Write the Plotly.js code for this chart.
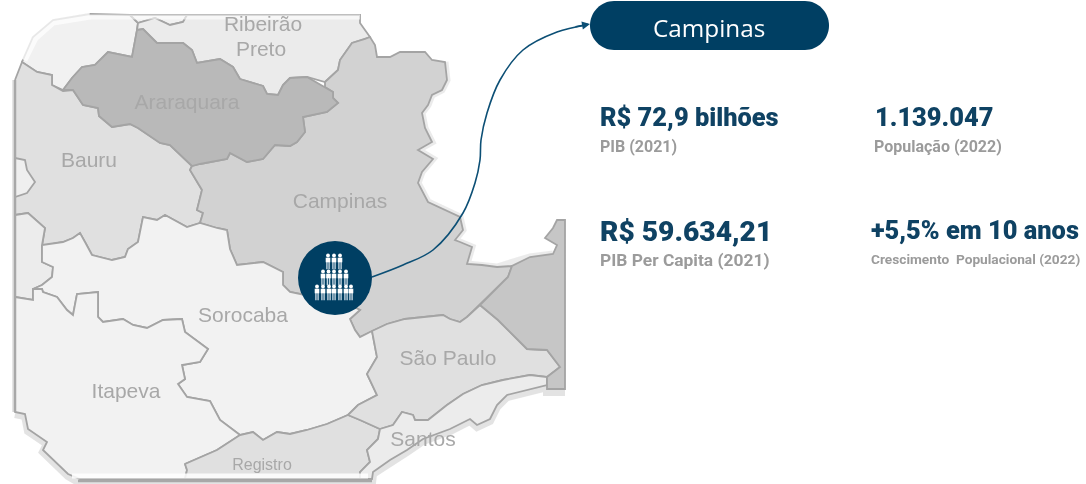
<!DOCTYPE html>
<html><head><meta charset="utf-8">
<script src="https://cdn.plot.ly/plotly-3.0.1.min.js"></script>
<style>html,body{margin:0;padding:0;background:#fff}#c{width:1086px;height:484px}</style>
</head><body><div id="c"></div>
<script>
// Region outlines
const cornerNW=[[90,14],[130,15],[138,23],[137,30],[132,57],[108,52],[95,65],[82,67],[72,78],[63,90],[52,85],[52,75],[37,72],[22,62],[33,37],[53,20]];
const cornerN=[[130,15],[187,15],[183,22],[170,25],[155,18],[138,23]];
const ribeirao=[[137,30],[143,29],[157,43],[183,43],[192,50],[197,63],[220,59],[233,67],[240,79],[263,86],[267,94],[278,95],[283,85],[290,78],[307,77],[325,82],[338,70],[340,60],[352,43],[365,39],[370,37],[360,23],[360,15],[187,15],[183,22],[170,25],[155,18],[138,23]];
const bauru=[[15,80],[22,62],[37,72],[52,75],[52,85],[63,91],[73,90],[83,105],[98,108],[99,116],[112,127],[130,124],[138,128],[160,143],[170,145],[192,166],[190,170],[202,190],[197,210],[203,213],[200,223],[187,227],[165,215],[157,220],[143,217],[138,242],[128,249],[125,257],[112,260],[92,255],[85,242],[80,233],[73,238],[63,242],[42,246],[45,228],[28,213],[15,215]];
const enclaveW=[[15,158],[25,160],[27,170],[35,182],[27,193],[15,197]];
const stripW=[[15,215],[28,213],[45,228],[42,245],[42,262],[53,267],[52,277],[42,285],[33,289],[33,300],[15,297]];
const enclaveSW=[[15,297],[22,310],[15,320]];
const araraquara=[[63,90],[72,78],[82,67],[95,65],[108,52],[132,57],[137,30],[143,29],[157,43],[183,43],[192,50],[197,63],[220,59],[233,67],[240,79],[263,86],[267,94],[278,95],[283,85],[290,78],[307,77],[325,87],[333,92],[333,98],[338,103],[327,112],[303,117],[305,132],[297,142],[290,146],[275,145],[263,159],[247,162],[230,153],[227,159],[200,164],[192,166],[170,145],[160,143],[138,128],[130,124],[112,127],[99,116],[98,108],[83,105],[73,90]];
const campinas=[[192,166],[200,164],[227,159],[230,153],[247,162],[263,159],[275,145],[290,146],[297,142],[305,132],[303,117],[327,112],[338,103],[333,98],[333,92],[325,87],[325,82],[338,70],[340,60],[352,43],[365,39],[370,37],[375,45],[377,57],[390,57],[400,52],[425,52],[432,60],[445,62],[447,80],[442,90],[432,95],[428,105],[422,113],[425,128],[432,142],[418,150],[433,159],[422,172],[418,183],[428,202],[460,217],[463,230],[455,240],[460,242],[472,247],[467,264],[482,265],[497,267],[512,266],[508,277],[480,305],[467,317],[460,322],[450,319],[443,315],[427,317],[405,319],[387,324],[372,331],[360,337],[355,330],[350,319],[360,310],[340,300],[310,296],[290,292],[283,285],[283,272],[263,262],[237,265],[230,249],[227,230],[217,228],[200,223],[203,213],[197,210],[202,190],[190,170]];
const sorocaba=[[42,245],[63,242],[73,238],[80,233],[85,242],[92,255],[112,260],[125,257],[128,249],[138,242],[143,217],[157,220],[165,215],[187,227],[200,223],[217,228],[227,230],[230,249],[237,265],[263,262],[283,272],[283,285],[290,292],[310,296],[340,300],[360,310],[350,319],[355,330],[360,337],[372,331],[376,352],[377,357],[367,374],[377,395],[358,405],[348,415],[327,424],[307,430],[290,434],[277,432],[263,440],[253,432],[240,435],[220,420],[210,401],[187,397],[178,384],[185,379],[182,365],[200,362],[208,349],[185,332],[182,319],[163,320],[147,328],[133,325],[123,319],[103,322],[98,317],[98,292],[77,294],[73,315],[67,310],[57,297],[43,292],[42,289],[33,289],[42,285],[52,277],[53,267],[42,262]];
const itapeva=[[15,297],[33,300],[33,289],[42,289],[43,292],[57,297],[67,310],[73,315],[77,294],[98,292],[98,317],[103,322],[123,319],[133,325],[147,328],[163,320],[182,319],[185,332],[208,349],[200,362],[182,365],[185,379],[178,384],[187,397],[210,401],[220,420],[240,435],[217,450],[185,464],[187,470],[185,479],[80,479],[68,474],[58,464],[43,450],[47,442],[28,429],[25,414],[15,412]];
const registro=[[185,464],[217,450],[240,435],[253,432],[263,440],[277,432],[290,434],[307,430],[327,424],[348,415],[360,420],[380,429],[378,439],[367,450],[370,462],[360,472],[360,479],[185,479],[187,470]];
const saoPaulo=[[372,331],[387,324],[405,319],[427,317],[443,315],[450,319],[460,322],[467,317],[480,305],[498,320],[517,339],[527,349],[547,350],[560,367],[547,377],[530,375],[503,380],[482,385],[463,394],[447,405],[428,420],[415,420],[413,415],[402,412],[393,425],[380,429],[360,420],[348,415],[358,405],[377,395],[367,374],[377,357],[376,352]];
const santos=[[380,429],[393,425],[402,412],[413,415],[415,420],[428,420],[447,405],[463,394],[482,385],[503,380],[530,375],[547,377],[547,385],[507,395],[497,405],[490,419],[477,425],[470,419],[450,429],[423,439],[407,450],[390,460],[373,472],[372,479],[360,479],[360,472],[370,462],[367,450],[378,439]];
const easternRegion=[[480,305],[508,277],[512,266],[530,257],[553,254],[557,245],[545,238],[553,228],[557,220],[565,220],[565,389],[547,389],[547,377],[560,367],[547,350],[527,349],[517,339],[498,320]];

const regionFills=[
 [cornerNW,'#f1f1f1'],[cornerN,'#f1f1f1'],[ribeirao,'#ebebeb'],[bauru,'#e0e0e0'],[enclaveW,'#efefef'],
 [stripW,'#ececec'],[enclaveSW,'#ececec'],[campinas,'#d2d2d2'],[araraquara,'#b9b9b9'],[sorocaba,'#f2f2f2'],
 [itapeva,'#f2f2f2'],[registro,'#e0e0e0'],[saoPaulo,'#e0e0e0'],[santos,'#ececec'],[easternRegion,'#c6c6c6']];

// Soft shadow runs along the outer map edge
const shadowEast=[[445,62],[447,80],[442,90],[432,95],[428,105],[422,113],[425,128],[432,142],[418,150],[433,159],[422,172],[418,183],[428,202],[460,217],[463,230],[455,240],[472,247],[467,264],[497,267],[530,257],[553,254]];
const shadowSouth=[[565,390],[547,390],[547,385],[507,395],[497,405],[490,419],[477,425],[470,419],[450,429],[423,439],[407,450],[390,460],[373,472],[372,481],[80,481],[68,474],[58,464],[43,450],[47,442],[28,429],[25,414],[15,412]];
const frameWest=[[15,80],[15,412]];
const frameTop=[[90,16],[53,22],[35,38],[24,60]];
const frameTopEdge=[[90,17],[360,17]];
const frameBottomGloss=[[72,476],[368,476]];
const frameBottom=[[78,481],[372,481]];

const mapLabelText=['Ribeirão','Preto','Araraquara','Bauru','Campinas','Sorocaba','São Paulo','Itapeva','Santos','Registro'];
const mapLabelX=[263,261,187,89,340,243,448,126,423,262];
const mapLabelY=[26,51,104,162,203,317,360,393,441,466];
const mapLabelSize=[21,21,21,21,21,21,21,21,21,16];

// Connector from the circle to the title pill
const connectorX=[372,403,433,463,475,480,481,487,500,523,557,586];
const connectorY=[277,265,250,213,183,160,140,113,80,50,32,25];
const badgeX=[335], badgeY=[278];

// People icon rows in the badge
const peopleX=[328,334,340, 323,328.5,334,340,346, 317,323,329,334,340,346,351];
const peopleY=[261,261,261, 277,277,277,277,277, 292,292,292,292,292,292,292];

const statText=['R$ 72,9 bilhões','1.139.047','R$ 59.634,21','+5,5% em 10 anos'];
const statX=[600,875,600,871];
const statY=[117,117,231,230];
const statSize=[25.4,25.4,28.2,25.4];
const noteText=['PIB (2021)','População (2022)','PIB Per Capita (2021)','Crescimento  Populacional (2022)'];
const noteX=[600,874,600,871];
const noteY=[146,146,260,259];
const noteSize=[16,16,17.4,13.7];
const title='Campinas';

const xs=p=>p.map(a=>a[0]), ys=p=>p.map(a=>a[1]);
const navy='#003f63';
const traces=[];
const lineTr=(pts,color,w,op)=>({x:xs(pts),y:ys(pts),mode:'lines',line:{color,width:w},opacity:op,hoverinfo:'skip',showlegend:false});
traces.push(lineTr(shadowEast,'#888',7,.16));
traces.push(lineTr(shadowSouth.map(a=>[a[0],a[1]+2]),'#777',8,.2));
traces.push(lineTr(frameWest,'#999',6,.25));
for(const [p,c] of regionFills){
  traces.push({x:xs(p).concat(p[0][0]),y:ys(p).concat(p[0][1]),mode:'lines',fill:'toself',fillcolor:c,
    line:{color:'#a4a4a4',width:1.8},hoverinfo:'skip',showlegend:false});
}
traces.push(lineTr(frameWest,'#a8a8a8',2.5,1));
traces.push(lineTr(frameTop,'#ffffff',7,.75));
traces.push(lineTr(frameTopEdge,'#ffffff',5,.6));
traces.push(lineTr(frameBottomGloss,'#ffffff',5,.85));
traces.push(lineTr(frameBottom,'#a8a8a8',2.5,1));
traces.push({x:mapLabelX,y:mapLabelY,text:mapLabelText,mode:'text',textposition:'middle center',
  textfont:{family:'Liberation Sans',size:mapLabelSize,color:'#a8a8a8'},hoverinfo:'skip',showlegend:false});
const blurCount=traces.length;
traces.push({x:connectorX,y:connectorY,mode:'lines',line:{color:'#0c4f75',width:1.6,shape:'spline',smoothing:1},hoverinfo:'skip',showlegend:false});
traces.push({x:badgeX,y:badgeY,mode:'markers',marker:{size:74,color:navy},hoverinfo:'skip',showlegend:false});
// figures: two legs, torso, head
traces.push({x:peopleX.map(v=>v-1.1),y:peopleY.map(v=>v+4),mode:'markers',marker:{symbol:'line-ns',size:6,line:{color:'#c4d6e1',width:1.4}},hoverinfo:'skip',showlegend:false});
traces.push({x:peopleX.map(v=>v+1.1),y:peopleY.map(v=>v+4),mode:'markers',marker:{symbol:'line-ns',size:6,line:{color:'#c4d6e1',width:1.4}},hoverinfo:'skip',showlegend:false});
traces.push({x:peopleX,y:peopleY.map(v=>v-1),mode:'markers',marker:{symbol:'square',size:4.6,color:'#ffffff'},hoverinfo:'skip',showlegend:false});
traces.push({x:peopleX,y:peopleY.map(v=>v-5.5),mode:'markers',marker:{size:3.8,color:'#ffffff'},hoverinfo:'skip',showlegend:false});

const annotations=[];
statText.forEach((t,i)=>annotations.push({x:statX[i],y:statY[i],xref:'x',yref:'y',text:t,showarrow:false,xanchor:'left',yanchor:'middle',xshift:-2,
  font:{family:'Roboto',size:statSize[i],weight:900,color:'#0f4263'}}));
noteText.forEach((t,i)=>annotations.push({x:noteX[i],y:noteY[i],xref:'x',yref:'y',text:'<b>'+t+'</b>',showarrow:false,xanchor:'left',yanchor:'middle',xshift:-2,
  font:{family:'Roboto',size:noteSize[i],color:'#9b9b9b'}}));
annotations.push({x:709,y:27,xref:'x',yref:'y',text:title,showarrow:false,font:{family:'Open Sans',size:24.3,color:'#fff'}});
annotations.push({x:590,y:24,ax:574,ay:27,xref:'x',yref:'y',axref:'x',ayref:'y',text:'',showarrow:true,arrowhead:2,arrowsize:1,arrowwidth:1.6,arrowcolor:'#0c4f75'});

const layout={width:1086,height:484,margin:{l:0,r:0,t:0,b:0},paper_bgcolor:'#fff',plot_bgcolor:'#fff',showlegend:false,
  xaxis:{range:[0,1086],visible:false,fixedrange:true},
  yaxis:{range:[484,0],visible:false,fixedrange:true},
  shapes:[{type:'path',xref:'x',yref:'y',layer:'above',line:{width:0},fillcolor:navy,
    path:'M 614 1 L 805 1 C 818 1 829 12 829 25.5 C 829 39 818 50 805 50 L 614 50 C 601 50 590 39 590 25.5 C 590 12 601 1 614 1 Z'}],
  annotations};
Plotly.newPlot('c',traces,layout,{staticPlot:true,displayModeBar:false}).then(()=>{
  document.querySelectorAll('.scatterlayer .trace').forEach((g,i)=>{ if(i<blurCount) g.style.filter='blur(0.5px)'; });
});
</script></body></html>
